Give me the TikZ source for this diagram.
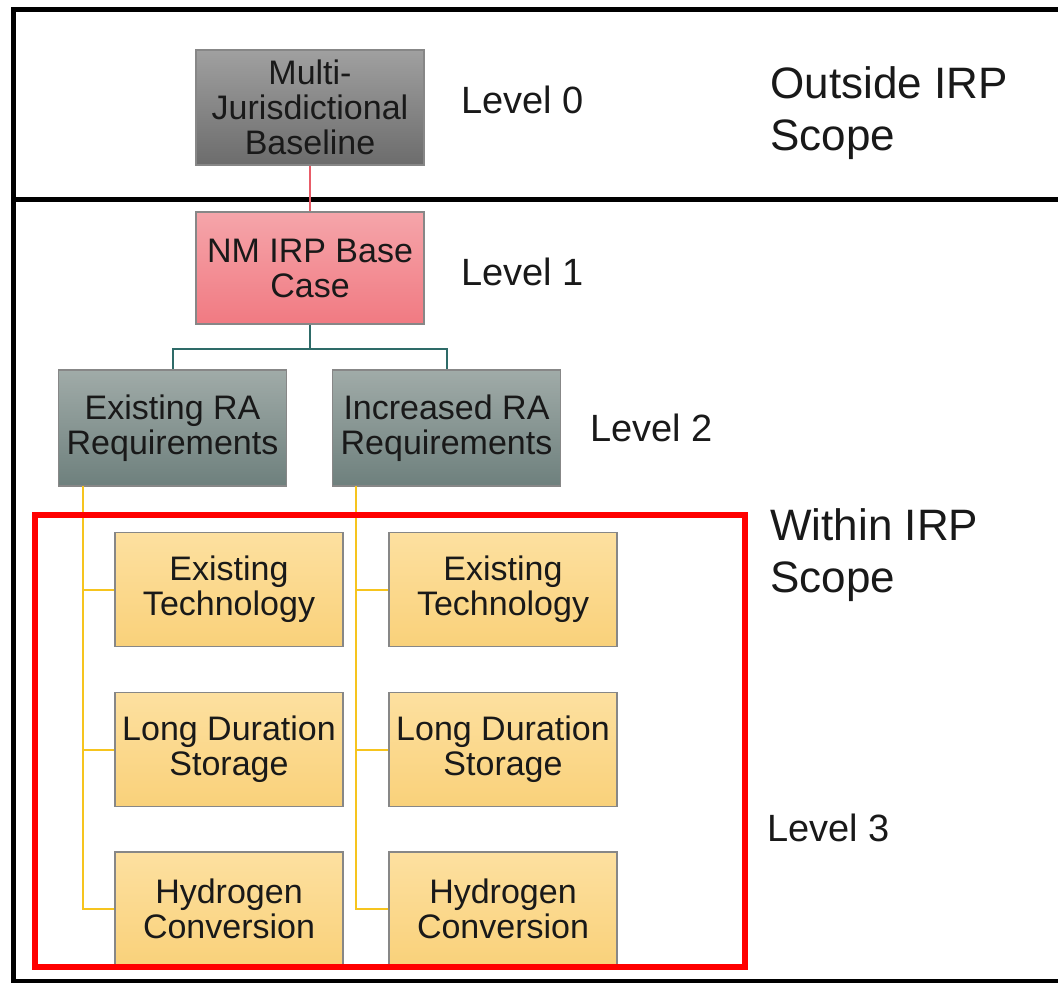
\documentclass[tikz,border=0pt]{standalone}
\usepackage{fontspec}
\setmainfont{Liberation Sans}
\definecolor{GreyTop}{RGB}{160,160,160}
\definecolor{GreyBot}{RGB}{108,108,108}
\definecolor{PinkTop}{RGB}{245,165,170}
\definecolor{PinkBot}{RGB}{241,122,130}
\definecolor{SlateTop}{RGB}{160,171,168}
\definecolor{SlateBot}{RGB}{110,128,125}
\definecolor{SandTop}{RGB}{253,224,160}
\definecolor{SandBot}{RGB}{249,209,122}
\definecolor{BoxEdge}{RGB}{135,135,135}
\definecolor{PinkLine}{RGB}{232,92,104}
\definecolor{TealLine}{RGB}{46,107,104}
\definecolor{GoldLine}{RGB}{246,196,30}
\definecolor{TextClr}{RGB}{25,25,25}

\begin{document}
\begin{tikzpicture}[x=0.5pt,y=-0.5pt,
  box/.style={draw=BoxEdge,line width=0.7pt,inner sep=0pt,minimum width=114pt,
    minimum height=57.5pt,align=center,text=TextClr,
    font=\fontsize{17}{17.5}\selectfont},
  greybox/.style={box,top color=GreyTop,bottom color=GreyBot},
  pinkbox/.style={box,top color=PinkTop,bottom color=PinkBot,minimum height=56pt},
  slatebox/.style={box,top color=SlateTop,bottom color=SlateBot,minimum height=58pt},
  sandbox/.style={box,top color=SandTop,bottom color=SandBot,minimum height=57pt},
  level/.style={anchor=west,inner sep=0pt,text=TextClr,font=\fontsize{19}{22}\selectfont},
  scopetxt/.style={anchor=north west,inner sep=0pt,align=left,text=TextClr,
    font=\fontsize{22}{26}\selectfont},
  frameline/.style={line width=2.5pt,black},
  goldlink/.style={GoldLine,line width=1pt}]

\path[use as bounding box,clip] (0,0) rectangle (1058,983);

% outer frame, split into two bands
\draw[frameline] (1070,10) -- (13,10) -- (13,981) -- (1070,981);
\draw[frameline] (13,200) -- (1070,200);

% level 0 and 1
\node[greybox] (base) at (310,107.5) {Multi-\\Jurisdictional\\Baseline};
\node[pinkbox] (nmcase) at (310,268) {NM IRP Base\\Case};
\draw[PinkLine,line width=0.8pt] (base) -- (nmcase);

% level 2
\node[slatebox] (exra) at (172.5,428) {Existing RA\\Requirements};
\node[slatebox] (incra) at (446.5,428) {Increased RA\\Requirements};
\draw[TealLine,line width=1pt] (nmcase.south) -- ++(0,24) coordinate (fork);
\draw[TealLine,line width=1pt] (fork) -| (exra.north);
\draw[TealLine,line width=1pt] (fork) -| (incra.north);

% level 3
\node[sandbox] (etA) at (229,589.5) {Existing\\Technology};
\node[sandbox] (ldA) at (229,749.5) {Long Duration\\Storage};
\node[sandbox] (hcA) at (229,909) {Hydrogen\\Conversion};
\node[sandbox] (etB) at (503,589.5) {Existing\\Technology};
\node[sandbox] (ldB) at (503,749.5) {Long Duration\\Storage};
\node[sandbox] (hcB) at (503,909) {Hydrogen\\Conversion};

\coordinate (trunkA) at (83,486);
\coordinate (trunkB) at (356,486);
\foreach \t in {etA,ldA,hcA}
  \draw[goldlink] (trunkA) |- (\t.west);
\foreach \t in {etB,ldB,hcB}
  \draw[goldlink] (trunkB) |- (\t.west);

% scope frame
\draw[red,line width=3pt] (35,515) rectangle (745,967);

% side labels
\node[level] (lv0) at (461,100) {Level 0};
\node[level] (lv1) at (461,272) {Level 1};
\node[level] (lv2) at (590,428) {Level 2};
\node[level] (lv3) at (767,828) {Level 3};
\node[scopetxt] (outside) at (770,66) {Outside IRP\\Scope};
\node[scopetxt] (within) at (770,508) {Within IRP\\Scope};

\end{tikzpicture}
\end{document}
